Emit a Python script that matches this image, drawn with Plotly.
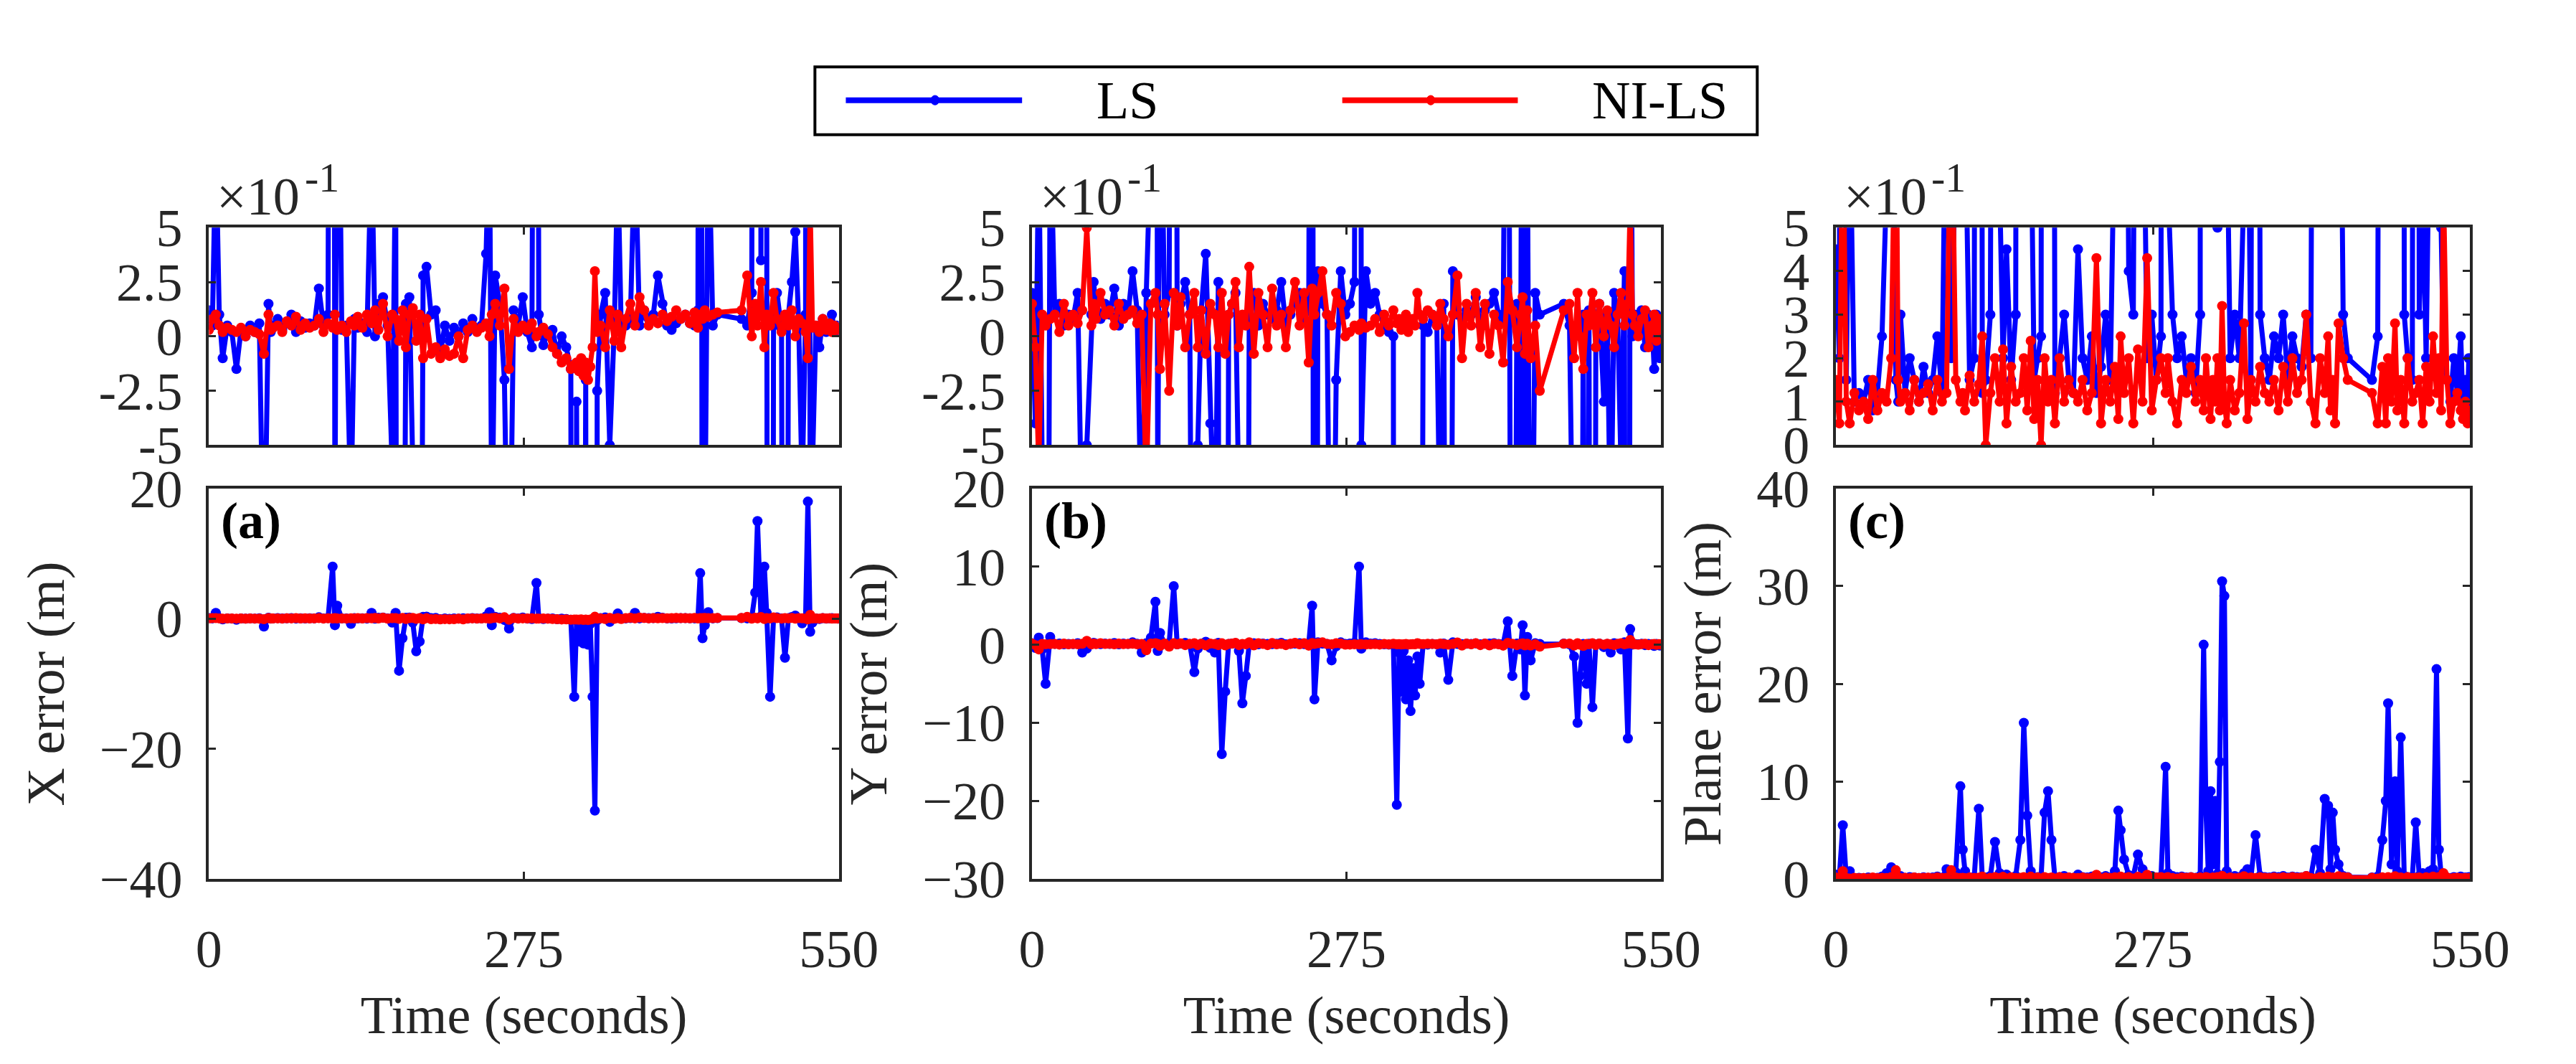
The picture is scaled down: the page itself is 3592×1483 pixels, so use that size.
import plotly.graph_objects as go

# time stamps (s)
t = [0, 3, 6, 9, 12, 16, 20, 24, 28, 32,
     36, 40, 44, 48, 52, 54, 56, 60, 64, 68,
     72, 76, 80, 84, 88, 92, 96, 100, 104, 108,
     110, 112, 116, 120, 124, 127, 130, 134, 138, 142,
     145, 148, 152, 156, 160, 163, 166, 169, 172, 175,
     178, 181, 184, 187, 190, 194, 198, 202, 206, 210,
     214, 218, 222, 226, 230, 234, 238, 242, 245, 247,
     250, 254, 258, 262, 266, 270, 274, 278, 282, 286,
     288, 292, 296, 300, 304, 308, 312, 316, 319, 321,
     323, 325, 327, 329, 331, 333, 335, 337, 339, 342,
     346, 350, 354, 357, 360, 364, 368, 372, 376, 380,
     384, 388, 392, 396, 400, 404, 408, 412, 416, 420,
     424, 427, 429, 431, 433, 436, 440, 444, 465, 470,
     474, 477, 479, 482, 485, 487, 490, 493, 496, 500,
     503, 506, 509, 512, 515, 518, 521, 523, 525, 527,
     530, 533, 536, 539, 542, 544, 546, 548, 549, 550]

# X error (m)
x_ls = [0.12, 0.05, 0.9, 0.1, -0.1, 0.05, 0.02, -0.15, 0.03, 0.0,
        0.05, 0.02, 0.06, -1.2, 0.15, 0.02, 0.05, 0.08, 0.03, 0.06,
        0.1, 0.02, 0.07, 0.04, 0.06, 0.05, 0.22, 0.05, 0.1, 8.0,
        -1.0, 2.0, 0.03, 0.05, -0.8, 0.08, 0.04, 0.06, 0.02, 0.9,
        0.0, 0.15, 0.18, 0.05, -0.6, 0.9, -8.0, -3.0, 0.15, 0.18,
        -0.6, -5.0, -3.5, 0.28, 0.32, 0.1, 0.12, -0.08, 0.05, -0.02,
        0.04, 0.0, 0.06, 0.02, 0.08, 0.03, 0.05, 0.38, 1.0, -1.0,
        0.28, 0.15, -0.2, -1.5, 0.12, 0.05, 0.18, 0.02, -0.05, 5.5,
        0.1, -0.04, 0.02, 0.03, -0.08, 0.0, -0.05, -0.15, -12.0, -0.3,
        -3.5, -0.6, -3.8, -0.2, -4.0, -0.8, -12.0, -29.5, -0.25, 0.1,
        0.2, -0.5, 0.05, 0.8, 0.03, 0.05, 0.08, 0.9, 0.05, 0.12,
        0.08, 0.1, 0.28, 0.15, 0.05, 0.03, 0.06, 0.08, 0.1, 0.06,
        0.05, 0.12, 7.0, -3.0, -1.0, 1.0, 0.05, 0.1, 0.08, 0.05,
        0.2, 4.0, 15.0, 0.35, 8.0, 0.9, -12.0, 0.05, 0.2, 0.03,
        -6.0, 0.1, 0.25, 0.48, 0.05, -0.7, 0.1, 18.0, -2.0, -0.6,
        0.05, -0.05, 0.08, 0.02, 0.06, 0.1, 0.03, 0.05, 0.02, 0.04]
x_nils = [0.03, 0.08, 0.1, 0.05, 0.02, 0.04, 0.03, 0.02, 0.04, 0.0,
          0.03, 0.02, 0.01, -0.08, 0.1, 0.03, 0.04, 0.05, 0.02, 0.07,
          0.05, 0.09, 0.03, 0.06, 0.04, 0.05, 0.08, 0.02, 0.06, 0.04,
          0.1, 0.03, 0.05, 0.02, 0.07, 0.05, 0.09, 0.04, 0.1, 0.06,
          0.12, 0.03, 0.15, 0.0, 0.1, 0.08, -0.02, 0.12, -0.05, 0.1,
          0.13, -0.02, 0.1, -0.1, 0.08, -0.08, -0.05, -0.1, -0.06, -0.09,
          -0.08, 0.0, -0.1, 0.03, 0.05, 0.02, 0.04, 0.06, 0.0, 0.1,
          0.15, 0.05, 0.22, -0.15, 0.08, 0.02, 0.05, 0.03, 0.06, 0.0,
          0.02, 0.04, 0.01, -0.05, -0.08, -0.12, -0.1, -0.15, -0.13, -0.12,
          -0.16, -0.1, -0.18, -0.12, -0.2, -0.14, -0.05, 0.3, 0.02, 0.05,
          -0.05, 0.12, -0.02, 0.1, -0.05, 0.08, 0.15, 0.05, 0.18, 0.12,
          0.05, 0.08, 0.06, 0.1, 0.07, 0.09, 0.12, 0.08, 0.1, 0.06,
          0.11, 0.04, 0.1, 0.08, 0.12, 0.09, 0.1, 0.11, 0.12, 0.28,
          0.0, 0.15, 0.05, 0.25, -0.05, 0.1, 0.05, 0.2, 0.08, 0.02,
          0.1, 0.05, 0.12, 0.0, 0.08, 0.06, 0.02, -0.1, 0.6, 0.04,
          0.05, 0.02, 0.08, 0.03, 0.06, 0.02, 0.05, 0.03, 0.04, 0.03]

# Y error (m)
y_ls = [0.2, -0.4, 0.9, -0.6, -5.0, 1.0, 0.1, 0.15, 0.05, 0.1,
        0.08, 0.2, -1.0, -0.5, 0.1, 0.25, 0.12, 0.08, 0.15, 0.1,
        0.22, 0.05, 0.15, 0.1, 0.3, 0.12, -1.0, 0.2, 0.9, 5.5,
        -0.8, 1.5, 0.1, 0.2, 7.5, 0.05, 0.15, 0.25, 0.1, -3.5,
        -0.5, 0.12, 0.38, -0.4, -1.0, 0.25, -14.0, -6.0, 0.1, 0.15,
        0.2, -0.8, -7.5, -4.0, 0.1, 0.2, 0.05, 0.15, 0.1, 0.08,
        0.12, 0.25, 0.05, 0.1, 0.15, 0.2, 0.08, 0.12, 5.0, -7.0,
        0.3, 0.15, 0.1, -2.0, -0.2, 0.3, 0.1, 0.15, 0.25, 10.0,
        -0.5, 0.3, 0.15, 0.2, 0.1, 0.05, 0.02, 0.0, -20.5, -1.0,
        -6.0, -0.8, -7.0, -2.0, -8.5, -3.0, -6.5, -1.5, -5.0, 0.05,
        0.02, 0.1, 0.05, -1.0, 0.15, -4.5, 0.3, 0.1, 0.08, 0.12,
        0.1, 0.18, 0.05, 0.12, 0.15, 0.2, 0.1, 0.08, 3.0, -4.0,
        0.15, -0.6, 2.5, -6.5, 1.0, -2.0, 0.2, 0.1, 0.15, 0.05,
        -1.5, -10.0, -4.0, 0.1, -5.0, 0.12, -8.0, 0.05, 0.15, -0.3,
        0.1, -1.0, 0.2, 0.1, -0.6, 0.3, -12.0, 2.0, 0.0, 0.1,
        0.05, 0.12, -0.05, 0.1, 0.08, -0.15, 0.1, 0.05, -0.1, 0.05]
y_nils = [0.15, -0.05, -0.6, 0.1, 0.05, 0.08, 0.1, 0.02, 0.15, 0.05,
          0.1, 0.06, 0.12, 0.5, 0.05, 0.15, 0.08, 0.2, 0.1, 0.12,
          0.05, 0.15, 0.08, 0.1, 0.12, 0.06, 0.1, -0.7, 0.15, 0.2,
          0.1, -0.15, 0.15, -0.25, 0.2, 0.05, 0.18, -0.05, 0.1, 0.2,
          -0.05, 0.12, -0.08, 0.15, 0.1, -0.05, 0.2, -0.08, 0.1, 0.15,
          0.25, -0.05, 0.1, 0.05, 0.32, -0.08, 0.2, 0.1, -0.05, 0.22,
          0.05, 0.1, -0.05, 0.12, 0.25, 0.05, 0.2, -0.12, 0.22, 0.1,
          0.2, 0.3, 0.1, 0.05, 0.2, 0.15, 0.0, 0.02, 0.05, 0.03,
          0.06, 0.04, 0.05, 0.08, 0.02, 0.1, 0.05, 0.12, 0.06, 0.08,
          0.03, 0.05, 0.1, 0.02, 0.06, 0.08, 0.05, 0.2, 0.1, 0.08,
          0.12, 0.1, 0.05, 0.15, 0.08, 0.0, 0.1, 0.28, -0.1, 0.15,
          0.05, 0.2, -0.05, 0.15, -0.08, 0.1, 0.05, -0.12, 0.25, 0.12,
          -0.05, 0.1, 0.18, -0.08, 0.12, -0.1, 0.05, -0.25, 0.12, 0.15,
          -0.1, 0.2, 0.0, -0.15, 0.1, 0.05, 0.2, -0.05, 0.15, 0.0,
          0.12, 0.05, -0.05, 0.1, 0.2, 0.05, 0.15, 0.6, 0.1, 0.05,
          0.0, 0.08, 0.12, -0.05, 0.05, 0.1, -0.02, 0.08, 0.03, 0.06]

# Plane error (m)
p_ls = [0.45, 0.2, 5.5, 0.15, 0.8, 0.1, 0.12, 0.1, 0.15, 0.08,
        0.12, 0.25, 0.6, 1.2, 0.15, 0.1, 0.3, 0.12, 0.2, 0.15,
        0.1, 0.18, 0.12, 0.15, 0.25, 0.12, 1.0, 0.2, 0.7, 9.5,
        3.0, 0.8, 0.15, 0.2, 7.2, 0.12, 0.15, 0.3, 3.8, 0.6,
        0.2, 0.45, 0.15, 0.3, 4.0, 16.0, 6.5, 0.8, 0.15, 0.2,
        0.25, 6.8, 9.0, 4.0, 0.12, 0.2, 0.3, 0.15, 0.12, 0.45,
        0.2, 0.15, 0.25, 0.12, 0.18, 0.3, 0.15, 0.8, 7.0, 5.0,
        2.0, 0.4, 0.3, 2.5, 1.0, 0.2, 0.3, 0.15, 0.25, 11.5,
        0.6, 0.3, 0.2, 0.25, 0.15, 0.2, 0.12, 0.3, 24.0, 7.0,
        0.8, 9.0, 1.5, 8.0, 0.5, 12.0, 30.5, 29.0, 0.8, 0.2,
        0.3, 0.2, 0.6, 1.0, 0.15, 4.5, 0.3, 0.2, 0.15, 0.25,
        0.2, 0.3, 0.15, 0.25, 0.2, 0.18, 0.3, 0.2, 3.0, 0.6,
        8.2, 7.5, 1.0, 6.8, 3.0, 1.5, 0.3, 0.2, 0.15, 0.25,
        4.0, 8.0, 18.0, 1.5, 10.0, 0.8, 14.5, 0.3, 0.2, 0.15,
        5.8, 0.3, 0.6, 0.2, 0.8, 1.0, 21.5, 3.0, 0.5, 0.2,
        0.15, 0.1, 0.2, 0.12, 0.25, 0.08, 0.15, 0.1, 0.2, 0.12]
p_nils = [0.15, 0.05, 0.8, 0.1, 0.05, 0.12, 0.08, 0.1, 0.06, 0.15,
          0.08, 0.12, 0.1, 0.2, 0.9, 0.15, 0.1, 0.12, 0.08, 0.15,
          0.1, 0.12, 0.14, 0.08, 0.15, 0.1, 0.12, 0.9, 0.15, 0.1,
          0.12, 0.08, 0.16, 0.1, 0.14, 0.25, 0.0, 0.12, 0.2, 0.1,
          0.22, 0.05, 0.18, 0.1, 0.12, 0.2, 0.08, 0.24, 0.06, 0.15,
          0.0, 0.2, 0.1, 0.15, 0.05, 0.2, 0.1, 0.15, 0.12, 0.1,
          0.15, 0.08, 0.12, 0.43, 0.05, 0.15, 0.1, 0.18, 0.06, 0.25,
          0.12, 0.2, 0.05, 0.22, 0.1, 0.43, 0.08, 0.15, 0.2, 0.12,
          0.2, 0.1, 0.05, 0.15, 0.12, 0.18, 0.1, 0.15, 0.08, 0.2,
          0.12, 0.06, 0.15, 0.1, 0.2, 0.08, 0.32, 0.1, 0.05, 0.15,
          0.08, 0.12, 0.28, 0.06, 0.15, 0.1, 0.18, 0.12, 0.1, 0.15,
          0.08, 0.18, 0.1, 0.2, 0.12, 0.15, 0.3, 0.1, 0.05, 0.2,
          0.12, 0.25, 0.08, 0.15, 0.05, 0.28, 0.2, 0.15, 0.12, 0.05,
          0.18, 0.05, 0.2, 0.1, 0.28, 0.08, 0.15, 0.05, 0.2, 0.1,
          0.12, 0.15, 0.05, 0.18, 0.1, 0.25, 0.12, 0.2, 0.08, 0.6,
          0.15, 0.05, 0.1, 0.12, 0.08, 0.06, 0.1, 0.05, 0.08, 0.06]

x_ticks = [0, 275, 550]
top_ticks = [-0.5, -0.25, 0, 0.25, 0.5]
top_labels = ['-5', '-2.5', '0', '2.5', '5']
top_c_ticks = [0, 0.1, 0.2, 0.3, 0.4, 0.5]
top_c_labels = ['0', '1', '2', '3', '4', '5']
y_titles = ['X error (m)', 'Y error (m)', 'Plane error (m)']
panel_tags = ['(a)', '(b)', '(c)']

W, H = 3592, 1483
FONT = 'Liberation Serif, Times New Roman, serif'
AX = '#262626'
FS = 74

x_dom = [[270 / W, 1167 / W], [1442 / W, 2338 / W], [2587 / W, 3490 / W]]
top_dom = [1 - 606 / H, 1 - 285 / H]
bot_dom = [1 - 1246 / H, 1 - 670 / H]

fig = go.Figure()

series = [(x_ls, x_nils), (y_ls, y_nils), (p_ls, p_nils)]
for i, (ls, nils) in enumerate(series):
    for row in range(2):
        n = i + 1 + 3 * row
        xa = 'x' if n == 1 else f'x{n}'
        ya = 'y' if n == 1 else f'y{n}'
        for vals, color, name in ((ls, '#0000ff', 'LS'), (nils, '#ff0000', 'NI-LS')):
            fig.add_trace(go.Scatter(
                x=t, y=vals, xaxis=xa, yaxis=ya, name=name,
                mode='lines+markers', showlegend=False,
                line=dict(color=color, width=7),
                marker=dict(color=color, size=14),
            ))


def axis_style():
    return dict(showline=True, linecolor=AX, linewidth=4, mirror='ticks',
                ticks='inside', ticklen=10, tickwidth=3, tickcolor=AX,
                showgrid=False, zeroline=False,
                tickfont=dict(family=FONT, size=FS, color=AX))


layout = {}
for i in range(3):
    for row in range(2):
        n = i + 1 + 3 * row
        xk = 'xaxis' if n == 1 else f'xaxis{n}'
        yk = 'yaxis' if n == 1 else f'yaxis{n}'
        xa = axis_style()
        xa.update(domain=x_dom[i], range=[0, 550], tickvals=x_ticks,
                  anchor='y' if n == 1 else f'y{n}', ticklabelstandoff=30)
        ya = axis_style()
        ya.update(anchor='x' if n == 1 else f'x{n}', ticklabelstandoff=18)
        if row == 0:
            xa.update(showticklabels=False)
            ya.update(domain=top_dom)
            if i < 2:
                ya.update(range=[-0.5, 0.5], tickvals=top_ticks, ticktext=top_labels)
            else:
                ya.update(range=[0, 0.5], tickvals=top_c_ticks, ticktext=top_c_labels)
        else:
            xa.update(title=dict(text='Time (seconds)', standoff=26,
                                 font=dict(family=FONT, size=FS, color=AX)))
            ya.update(domain=bot_dom,
                      title=dict(text=y_titles[i], standoff=26,
                                 font=dict(family=FONT, size=FS, color=AX)))
            if i == 0:
                ya.update(range=[-40, 20], tickvals=[-40, -20, 0, 20])
            elif i == 1:
                ya.update(range=[-30, 20], tickvals=[-30, -20, -10, 0, 10, 20])
            else:
                ya.update(range=[0, 40], tickvals=[0, 10, 20, 30, 40])
        layout[xk] = xa
        layout[yk] = ya

annotations = []
for i in range(3):
    top_n = i + 1
    bot_n = i + 4
    xr = ('x' if top_n == 1 else f'x{top_n}') + ' domain'
    yr = ('y' if top_n == 1 else f'y{top_n}') + ' domain'
    pw = (x_dom[i][1] - x_dom[i][0]) * W
    # scale factor label above each zoomed panel
    annotations.append(dict(
        text='×10', showarrow=False, xref=xr, yref=yr,
        x=9 / pw, y=1.0, xanchor='left', yanchor='bottom',
        font=dict(family=FONT, size=FS, color=AX)))
    annotations.append(dict(
        text='-1', showarrow=False, xref=xr, yref=yr,
        x=134 / pw, y=1.115, xanchor='left', yanchor='bottom',
        font=dict(family=FONT, size=58, color=AX)))
    annotations.append(dict(
        text='<b>' + panel_tags[i] + '</b>', showarrow=False,
        xref=f'x{bot_n} domain', yref=f'y{bot_n} domain',
        x=0.017, y=0.995, xanchor='left', yanchor='top',
        font=dict(family=FONT, size=72, color='black')))

# legend box
lg_y = 1 - 97 / H
shapes = [dict(type='rect', xref='paper', yref='paper',
               x0=1133 / W, x1=2475 / W, y0=1 - 148 / H, y1=1 - 48 / H,
               line=dict(color='black', width=4), fillcolor='white')]
for x0, x1, xm, color in ((1177, 1428, 1304, '#0000ff'), (1884, 2134, 2010, '#ff0000')):
    shapes.append(dict(type='line', xref='paper', yref='paper',
                       x0=x0 / W, x1=x1 / W, y0=lg_y, y1=lg_y,
                       line=dict(color=color, width=8)))
    shapes.append(dict(type='circle', xref='paper', yref='paper',
                       x0=(xm - 6) / W, x1=(xm + 6) / W,
                       y0=lg_y - 7 / H, y1=lg_y + 7 / H,
                       fillcolor=color, line=dict(color=color, width=1)))
annotations.append(dict(text='LS', showarrow=False, xref='paper', yref='paper',
                        x=1578 / W, y=lg_y, xanchor='center', yanchor='middle',
                        font=dict(family=FONT, size=FS, color='black')))
annotations.append(dict(text='NI-LS', showarrow=False, xref='paper', yref='paper',
                        x=2336 / W, y=lg_y, xanchor='center', yanchor='middle',
                        font=dict(family=FONT, size=FS, color='black')))

fig.update_layout(**layout)
fig.update_layout(width=W, height=H, margin=dict(l=0, r=0, t=0, b=0),
                  plot_bgcolor='white', paper_bgcolor='white',
                  showlegend=False, annotations=annotations, shapes=shapes,
                  font=dict(family=FONT, color=AX))

fig.write_html('out.html')
